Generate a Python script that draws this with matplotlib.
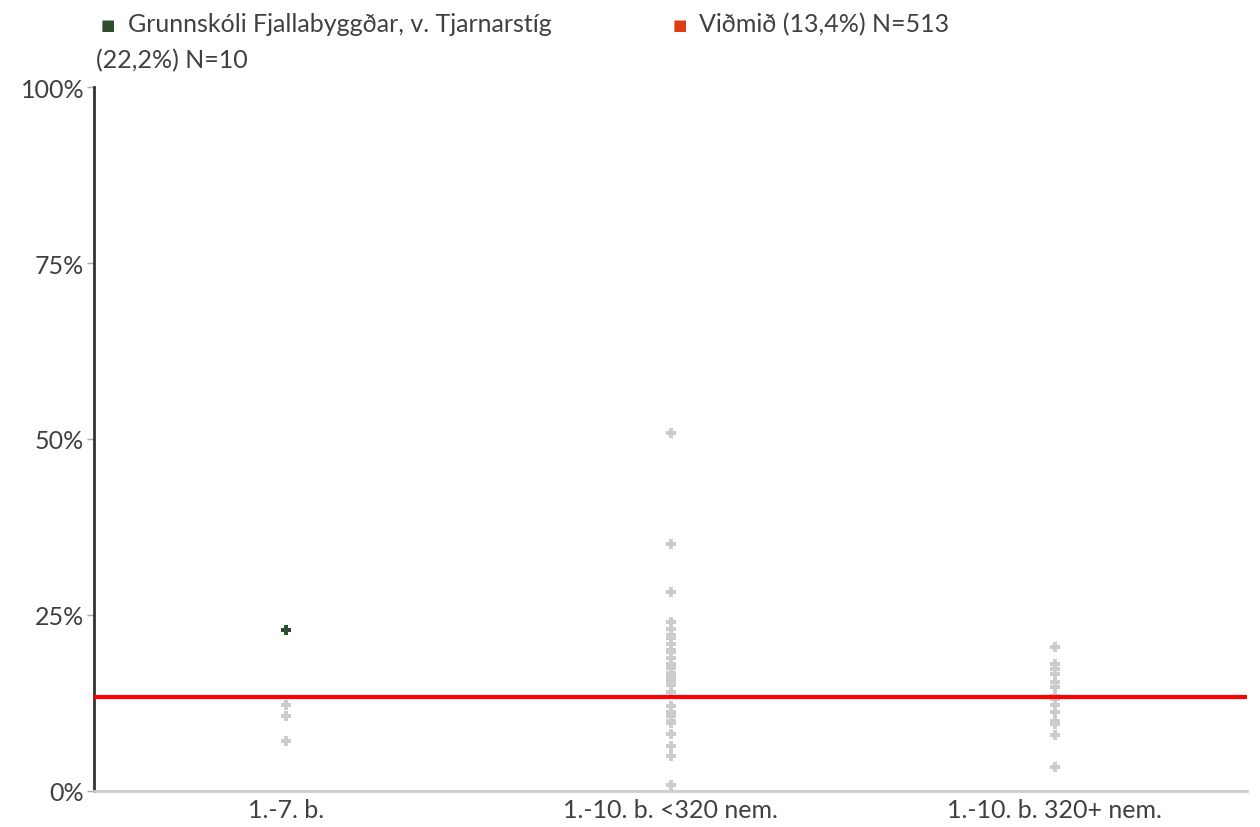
import matplotlib.pyplot as plt
from matplotlib.ticker import FuncFormatter

plt.rcParams['font.family'] = ['Lato', 'DejaVu Sans']

categories = ['1.-7. b.', '1.-10. b. <320 nem.', '1.-10. b. 320+ nem.']

# other schools (grey points), percent
others_1_7 = [12.2, 10.7, 7.1]
others_small = [50.9, 35.1, 28.3, 24.0, 23.0, 22.2, 21.8, 20.9, 20.0, 19.7, 18.9, 18.0,
                17.5, 16.8, 16.2, 15.9, 15.5, 15.0, 14.0, 12.1, 11.2, 10.6, 10.0, 9.6,
                8.1, 6.4, 4.9, 0.9]
others_large = [20.5, 18.0, 17.3, 16.6, 15.5, 14.8, 13.5, 13.1, 12.2, 11.2, 10.0, 9.5,
                8.0, 3.4]
others = [others_1_7, others_small, others_large]

school_cat = 0
school_value = 22.8
benchmark = 13.4

fs = 18
txt = '#404040'

fig = plt.figure(figsize=(12.6, 8.28), dpi=100)
ax = fig.add_axes([0.0746, 0.0435, 0.9151, 0.8502])

for i, vals in enumerate(others):
    ax.plot([i] * len(vals), vals, linestyle='none', marker='P', markersize=7.5,
            color='#cccccc', markeredgewidth=0, zorder=2)

ax.axhline(benchmark, color='#ff0000', linewidth=3, zorder=3)

ax.plot([school_cat], [school_value], linestyle='none', marker='P', markersize=7.5,
        color='#2d4f2d', markeredgewidth=0, zorder=4)

ax.set_xlim(-0.5, 2.5)
ax.set_ylim(0, 100)
ax.set_xticks(range(len(categories)))
ax.set_xticklabels(categories)
ax.set_yticks([0, 25, 50, 75, 100])
ax.yaxis.set_major_formatter(FuncFormatter(lambda v, p: f'{int(v)}%'))

for s in ['top', 'right']:
    ax.spines[s].set_visible(False)
ax.spines['left'].set_color('#333333')
ax.spines['left'].set_linewidth(2)
ax.spines['bottom'].set_color('#cccccc')
ax.spines['bottom'].set_linewidth(2)
ax.tick_params(axis='x', length=0, labelsize=fs, labelcolor=txt, pad=5)
ax.tick_params(axis='y', length=5, width=1, color='#aaaaaa', labelsize=fs,
               labelcolor=txt, pad=2)

# legend
fig.text(0.080, 0.969, '■', fontsize=11, color='#2d4f2d', va='center')
fig.text(0.1015, 0.970, 'Grunnskóli Fjallabyggðar, v. Tjarnarstíg',
         fontsize=fs, color=txt, va='center')
fig.text(0.076, 0.927, '(22,2%) N=10', fontsize=fs, color=txt, va='center')
fig.text(0.534, 0.969, '■', fontsize=11, color='#e03c14', va='center')
fig.text(0.555, 0.970, 'Viðmið (13,4%) N=513', fontsize=fs, color=txt, va='center')

fig.savefig('out.png', dpi=100)
